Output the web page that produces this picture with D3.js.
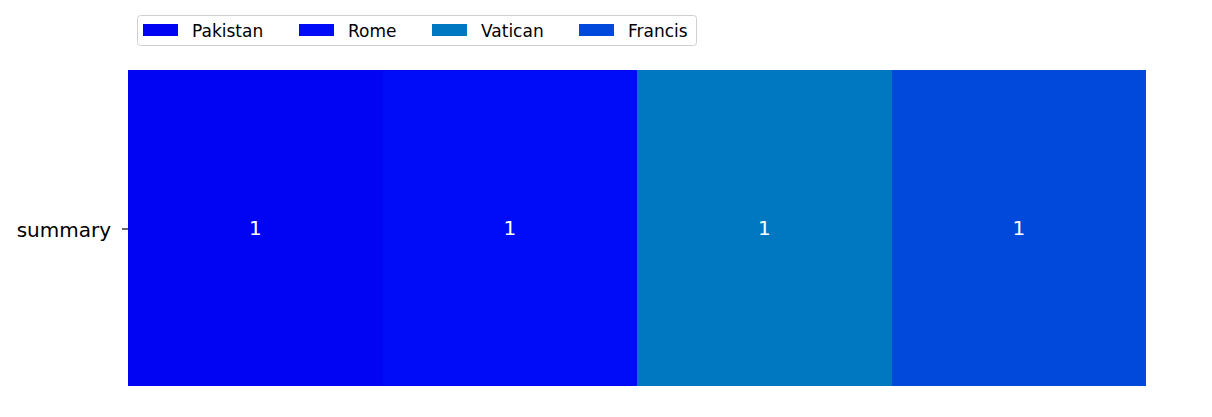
<!DOCTYPE html>
<html><head><meta charset="utf-8">
<script src="https://cdn.jsdelivr.net/npm/d3@7"></script>
<style>body{margin:0;background:#fff}svg{display:block}text{font-family:"DejaVu Sans",sans-serif}</style>
</head><body>
<svg id="c" width="1212" height="417"></svg>
<script>
const categories = ["summary"];
const series = ["Pakistan", "Rome", "Vatican", "Francis"];
const values = [1, 1, 1, 1];
const colors = ["#0004f3", "#000cf8", "#0078c1", "#0049db"];

const svg = d3.select("#c");
const m = {l:128, r:1146, t:70, b:386};
const total = d3.sum(values);
const x = d3.scaleLinear().domain([0, total]).range([m.l, m.r]);
const y = d3.scaleBand().domain(categories).range([m.t, m.b]).padding(0);

let cum = 0;
const segs = series.map((s,i)=>{const o={name:s,v:values[i],x0:cum,x1:cum+values[i],c:colors[i]};cum+=values[i];return o;});

categories.forEach(cat=>{
  svg.selectAll("rect.seg").data(segs).enter().append("rect")
    .attr("x",d=>x(d.x0)).attr("width",(d,i)=>x(d.x1)-x(d.x0)+(i<segs.length-1?0.5:0))
    .attr("y",y(cat)).attr("height",y.bandwidth()).attr("fill",d=>d.c)
    .attr("shape-rendering","crispEdges");
  svg.selectAll("text.val").data(segs).enter().append("text")
    .attr("x",d=>(x(d.x0)+x(d.x1))/2).attr("y",y(cat)+y.bandwidth()/2)
    .attr("text-anchor","middle").attr("dominant-baseline","central")
    .attr("fill","#fff").style("font-size","20px").text(d=>d.v);
});

const ax = svg.append("g").attr("transform",`translate(${m.l},1)`)
  .call(d3.axisLeft(y).tickSize(6).tickPadding(11));
ax.select(".domain").remove();
ax.selectAll("line").attr("stroke","#000").attr("stroke-width",1.2);
ax.selectAll("text").style("font-size","20px").attr("fill","#000").style("font-family","DejaVu Sans").attr("dy","0.42em");

// legend
const lg = svg.append("g");
lg.append("rect").attr("x",137.5).attr("y",15.5).attr("width",559).attr("height",30).attr("rx",3)
  .attr("fill","#fff").attr("stroke","#d0d0d0");
const lx = [143, 299, 432, 579];
series.forEach((s,i)=>{
  lg.append("rect").attr("x",lx[i]).attr("y",24).attr("width",35).attr("height",12).attr("fill",colors[i]);
  lg.append("text").attr("x",lx[i]+49).attr("y",30.5).attr("dominant-baseline","central")
    .style("font-size","17px").attr("fill","#000").text(s);
});
</script>
</body></html>
